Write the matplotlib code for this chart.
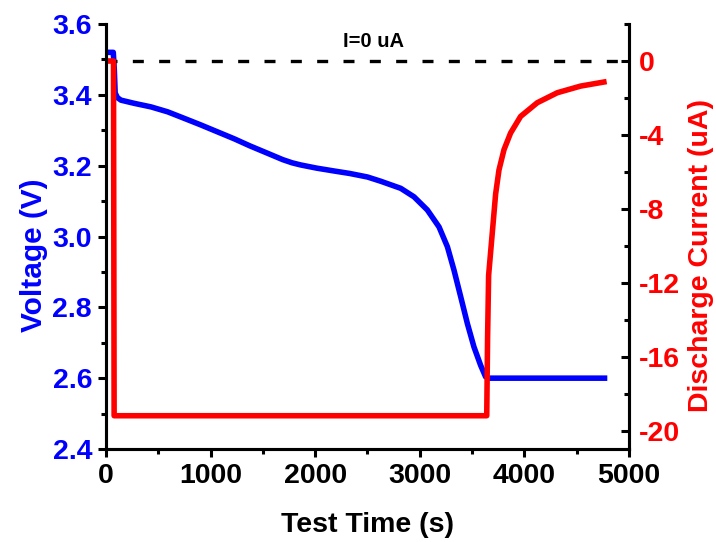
import numpy as np
import matplotlib.pyplot as plt
from matplotlib.ticker import MultipleLocator

plt.rcParams['font.family'] = ['Liberation Sans', 'DejaVu Sans']
plt.rcParams['font.weight'] = 'bold'
plt.rcParams['axes.unicode_minus'] = False

# Voltage curve (s, V)
t_volt = [0, 70, 80, 88, 110, 143, 270, 430, 590, 745, 907, 1070, 1225, 1375,
          1545, 1690, 1780, 1862, 2015, 2180, 2330, 2500, 2627, 2818, 2945,
          3072, 3184, 3264, 3327, 3391, 3455, 3518, 3582, 3629, 3660, 4766]
volt = [3.52, 3.52, 3.47, 3.405, 3.392, 3.385, 3.376, 3.366, 3.352, 3.334,
        3.315, 3.295, 3.276, 3.256, 3.235, 3.217, 3.208, 3.202, 3.193, 3.185,
        3.178, 3.168, 3.156, 3.136, 3.112, 3.075, 3.027, 2.971, 2.905, 2.830,
        2.754, 2.688, 2.636, 2.604, 2.600, 2.600]

# Discharge current (s, uA)
t_cur = [0, 72, 78, 3640, 3648, 3658, 3690, 3725, 3757, 3805, 3868, 3964,
         4123, 4314, 4537, 4760]
cur = [0, 0, -19.2, -19.2, -15.0, -11.6, -9.5, -7.2, -5.9, -4.8, -3.9, -3.0,
       -2.26, -1.72, -1.36, -1.14]

blue = '#0000FF'
red = '#FF0000'

fig = plt.figure(figsize=(7.16, 5.42), dpi=100)
ax = fig.add_axes([0.148, 0.1716, 0.7305, 0.7841])
ax2 = ax.twinx()

ax.plot(t_volt, volt, color=blue, lw=4)
ax2.axhline(0, color='black', lw=2.4, dashes=(3.3, 4.6))
ax2.plot(t_cur, cur, color=red, lw=4)

ax.set_xlim(0, 5000)
ax.set_ylim(2.4, 3.6)
ax2.set_ylim(-21, 2)

ax.xaxis.set_major_locator(MultipleLocator(1000))
ax.xaxis.set_minor_locator(MultipleLocator(500))
ax.yaxis.set_major_locator(MultipleLocator(0.2))
ax.yaxis.set_minor_locator(MultipleLocator(0.1))
ax2.set_yticks([-20, -16, -12, -8, -4, 0])
ax2.yaxis.set_minor_locator(MultipleLocator(2))

for a in (ax, ax2):
    a.spines['top'].set_visible(False)
    for s in a.spines.values():
        s.set_linewidth(2.2)

ax.tick_params(axis='both', which='major', direction='out', length=6,
               width=2.2, labelsize=20.5, pad=4)
ax.tick_params(axis='both', which='minor', direction='out', length=3.5,
               width=2.2)
ax.tick_params(axis='y', labelcolor=blue)
ax2.tick_params(axis='y', which='major', direction='in', length=6, width=2.2,
                labelsize=20.5, labelcolor=red, pad=7)
ax2.tick_params(axis='y', which='minor', direction='in', length=3.5, width=2.2)

ax.set_ylim(2.4, 3.6)
ax2.set_ylim(-21, 2)

ax.set_xlabel('Test Time (s)', fontsize=20.5, fontweight='bold', labelpad=17)
ax.set_ylabel('Voltage (V)', fontsize=21.5, fontweight='bold', color=blue)
ax2.set_ylabel('Discharge Current (uA)', fontsize=20.5, fontweight='bold',
               color=red)
ax.yaxis.set_label_coords(-0.11, 0.455)
ax2.yaxis.set_label_coords(1.112, 0.455)

ax2.text(2560, 1.05, 'I=0 uA', fontsize=14.5, fontweight='bold',
         ha='center', va='center', color='black')

fig.savefig('out.png', dpi=100)
